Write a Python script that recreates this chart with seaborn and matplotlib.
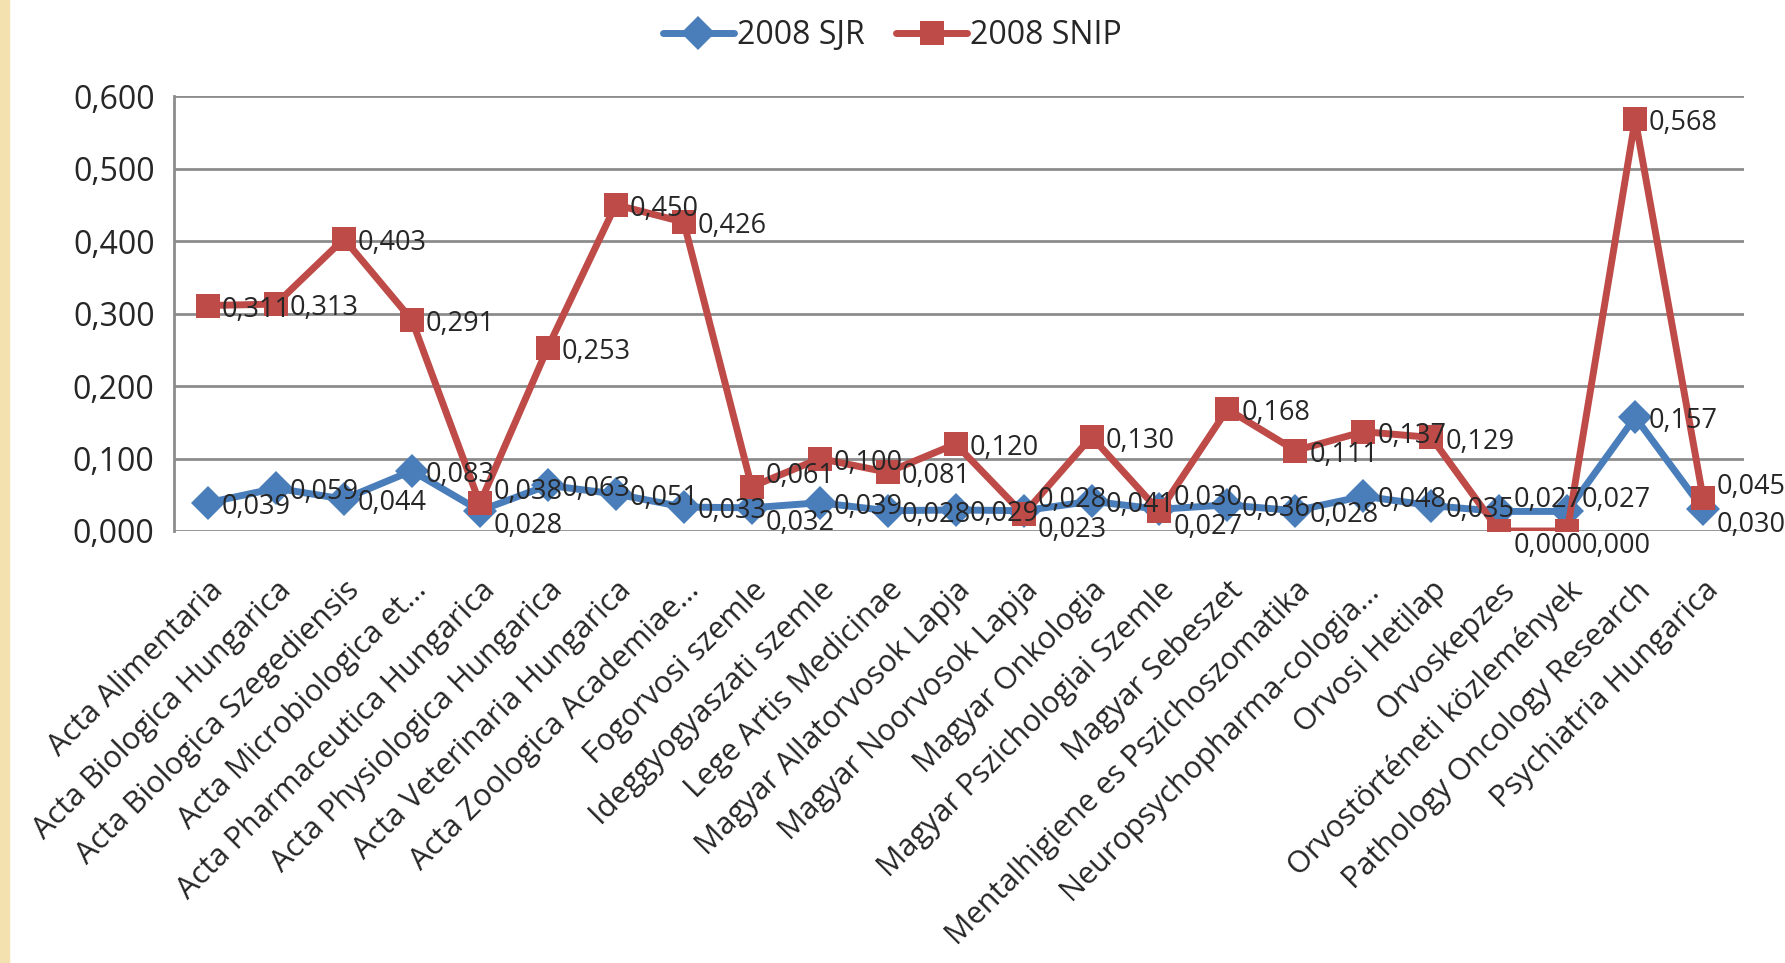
import numpy as np
import pandas as pd
import matplotlib
matplotlib.use("Agg")
import matplotlib.pyplot as plt
import seaborn as sns
from matplotlib.patches import Rectangle

journals = [
    "Acta Alimentaria", "Acta Biologica Hungarica", "Acta Biologica Szegediensis",
    "Acta Microbiologica et...", "Acta Pharmaceutica Hungarica", "Acta Physiologica Hungarica",
    "Acta Veterinaria Hungarica", "Acta Zoologica Academiae...", "Fogorvosi szemle",
    "Ideggyogyaszati szemle", "Lege Artis Medicinae", "Magyar Allatorvosok Lapja",
    "Magyar Noorvosok Lapja", "Magyar Onkologia", "Magyar Pszichologiai Szemle",
    "Magyar Sebeszet", "Mentalhigiene es Pszichoszomatika", "Neuropsychopharma-cologia...",
    "Orvosi Hetilap", "Orvoskepzes", "Orvostörténeti közlemények",
    "Pathology Oncology Research", "Psychiatria Hungarica",
]
sjr = [0.039, 0.059, 0.044, 0.083, 0.028, 0.063, 0.051, 0.033, 0.032, 0.039, 0.028, 0.029,
       0.028, 0.041, 0.030, 0.036, 0.028, 0.048, 0.035, 0.027, 0.027, 0.157, 0.030]
snip = [0.311, 0.313, 0.403, 0.291, 0.038, 0.253, 0.450, 0.426, 0.061, 0.100, 0.081, 0.120,
        0.023, 0.130, 0.027, 0.168, 0.111, 0.137, 0.129, 0.000, 0.000, 0.568, 0.045]
series_names = ["2008 SJR", "2008 SNIP"]

df = pd.concat([
    pd.DataFrame({"journal": journals, "value": sjr, "series": series_names[0]}),
    pd.DataFrame({"journal": journals, "value": snip, "series": series_names[1]}),
])

sns.set_style("white")
plt.rcParams['font.family'] = ['Open Sans', 'DejaVu Sans']

colors = {"2008 SJR": "#4A7EBB", "2008 SNIP": "#BE4B48"}
marks = {"2008 SJR": "D", "2008 SNIP": "s"}

fig = plt.figure(figsize=(17.85, 9.63), dpi=100)
ax = fig.add_axes([0.0975, 0.4486, 0.8795, 0.4517])
fig.patches.append(Rectangle((0, 0), 0.005, 1, transform=fig.transFigure,
                             color="#F3E2B0", zorder=0))

sns.lineplot(data=df, x="journal", y="value", hue="series", style="series",
             palette=colors, markers=marks, dashes=False, sort=False,
             linewidth=5, markersize=17, markeredgewidth=0, ax=ax)

ax.set_xlim(-0.5, len(journals) - 0.4)
ax.set_ylim(0, 0.6)
ax.set_yticks(np.arange(0, 0.61, 0.1))
ax.set_yticklabels([f"{v:.3f}".replace(".", ",") for v in np.arange(0, 0.61, 0.1)],
                   fontsize=23)
ax.set_xticks(range(len(journals)))
ax.set_xticklabels(journals, rotation=45, ha="right", rotation_mode="anchor", fontsize=22)
ax.tick_params(axis="y", length=0, pad=14)
ax.tick_params(axis="x", length=0, pad=32)
ax.set_xlabel("")
ax.set_ylabel("")
ax.yaxis.grid(True, color="#8C8C8C", linewidth=2)
for s in ["top", "right", "bottom"]:
    ax.spines[s].set_visible(False)
ax.spines["left"].set_color("#8C8C8C")
ax.spines["left"].set_linewidth(2)

# data labels right of each point; when both series are close,
# the higher value's label goes up and the lower one's goes down
for vals, other in ((sjr, snip), (snip, sjr)):
    for i, v in enumerate(vals):
        dy = -3
        if abs(v - other[i]) < 0.03:
            dy = 8 if v > other[i] else -11
        ax.annotate(f"{v:.3f}".replace(".", ","), (i, v), xytext=(10, dy),
                    textcoords="offset points", ha="left", va="center", fontsize=19.5)

ax.legend_.remove()
handles, labels = ax.get_legend_handles_labels()
fig.legend(handles, labels, loc="upper center", bbox_to_anchor=(0.5, 1.01), ncol=2,
           frameon=False, fontsize=23, handlelength=2.2, handletextpad=0.1,
           columnspacing=1.0)

fig.savefig("out.png", dpi=100)
